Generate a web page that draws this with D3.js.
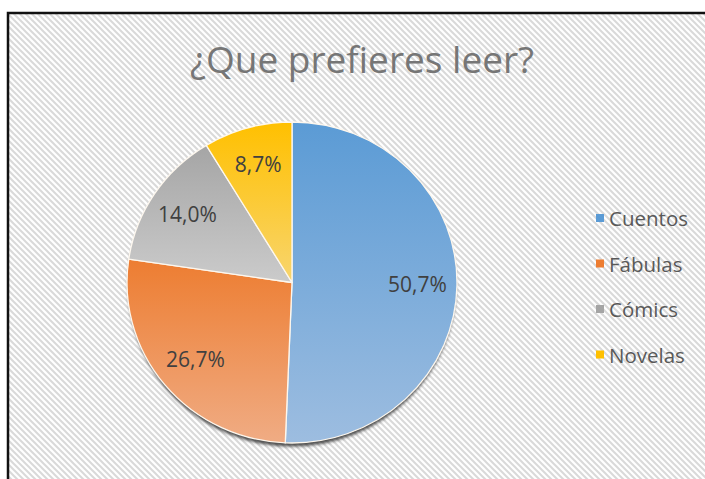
<!DOCTYPE html>
<html>
<head>
  <meta charset="utf-8">
  <script src="https://cdnjs.cloudflare.com/ajax/libs/d3/7.8.5/d3.min.js"></script>
  <style>
    html, body { margin: 0; padding: 0; background: #fff; }
    text { font-family: "Open Sans", "Noto Sans", sans-serif; }
  </style>
</head>
<body>
<script type="text/javascript">
  // chart data
  var categories = ["Cuentos", "Fábulas", "Cómics", "Novelas"];
  var values = [50.7, 26.7, 14.0, 8.7];
  var labels = ["50,7%", "26,7%", "14,0%", "8,7%"];
  var topColors = ["#5b9bd5", "#ed7d31", "#a5a5a5", "#ffc000"];
  var bottomColors = ["#9dbde0", "#f0ac84", "#cbcbcb", "#f8d56e"];
  var title = "¿Que prefieres leer?";

  var width = 705, height = 479;
  var cx = 292, cy = 282.5, rx = 165, ry = 160.5;

  var svg = d3.select("body").append("svg")
      .attr("width", width)
      .attr("height", height);

  var defs = svg.append("defs");

  // hatched chart area background
  var pat = defs.append("pattern")
      .attr("id", "hatch")
      .attr("patternUnits", "userSpaceOnUse")
      .attr("width", 6).attr("height", 6);
  pat.append("rect").attr("width", 6).attr("height", 6).attr("fill", "#fff");
  pat.append("path")
      .attr("d", "M-3,3 L3,9 M0,0 L6,6 M3,-3 L9,3")
      .attr("stroke", "#d9d9d9")
      .attr("stroke-width", 2);

  // gradient per slice, darker on top
  categories.forEach(function(c, i) {
    var g = defs.append("linearGradient")
        .attr("id", "grad" + i)
        .attr("x1", 0).attr("y1", 0).attr("x2", 0).attr("y2", 1);
    g.append("stop").attr("offset", "0%").attr("stop-color", topColors[i]);
    g.append("stop").attr("offset", "100%").attr("stop-color", bottomColors[i]);
  });

  var blur = defs.append("filter").attr("id", "shadow")
      .attr("x", "-10%").attr("y", "-10%").attr("width", "120%").attr("height", "130%");
  blur.append("feGaussianBlur").attr("stdDeviation", 1.4);

  // frame
  svg.append("rect")
      .attr("x", 8).attr("y", 13)
      .attr("width", 760).attr("height", 520)
      .attr("fill", "url(#hatch)")
      .attr("stroke", "#111")
      .attr("stroke-width", 2.5);

  // title
  svg.append("text")
      .attr("x", 362).attr("y", 73)
      .attr("text-anchor", "middle")
      .style("font-size", "37px")
      .style("fill", "#767676")
      .text(title);

  // pie
  var pie = d3.pie().sort(null).value(function(d) { return d; });
  var arcs = pie(values);
  var arc = d3.arc().innerRadius(0).outerRadius(rx);
  var labelArc = d3.arc().innerRadius(rx * 0.76).outerRadius(rx * 0.76);

  var k = ry / rx;

  // drop shadow under pie
  svg.append("ellipse")
      .attr("cx", cx).attr("cy", cy + 3.5)
      .attr("rx", rx - 1).attr("ry", ry)
      .attr("fill", "#2b2b2b")
      .attr("opacity", 0.8)
      .attr("filter", "url(#shadow)");

  var pieG = svg.append("g")
      .attr("transform", "translate(" + cx + "," + cy + ") scale(1," + k + ")");

  pieG.selectAll("path.slice")
      .data(arcs)
      .enter().append("path")
      .attr("class", "slice")
      .attr("d", arc)
      .attr("fill", function(d, i) { return "url(#grad" + i + ")"; })
      .attr("stroke", "#fdf7ee")
      .attr("stroke-width", 1.3)
      .attr("stroke-linejoin", "round");

  svg.selectAll("text.lbl")
      .data(arcs)
      .enter().append("text")
      .attr("class", "lbl")
      .attr("x", function(d) { return cx + labelArc.centroid(d)[0]; })
      .attr("y", function(d) { return cy + labelArc.centroid(d)[1] * k - 1; })
      .attr("text-anchor", "middle")
      .attr("dominant-baseline", "central")
      .style("font-size", "21px")
      .style("fill", "#404040")
      .text(function(d, i) { return labels[i]; });

  // legend
  var legend = svg.append("g").attr("transform", "translate(596,218)");
  var row = legend.selectAll("g")
      .data(categories)
      .enter().append("g")
      .attr("transform", function(d, i) { return "translate(0," + (i * 45.5) + ")"; });
  row.append("rect")
      .attr("x", 0).attr("y", -4)
      .attr("width", 8).attr("height", 8)
      .attr("fill", function(d, i) { return topColors[i]; });
  row.append("text")
      .attr("x", 13).attr("y", 0)
      .attr("dominant-baseline", "central")
      .style("font-size", "20.5px")
      .style("fill", "#595959")
      .text(function(d) { return d; });
</script>
</body>
</html>
